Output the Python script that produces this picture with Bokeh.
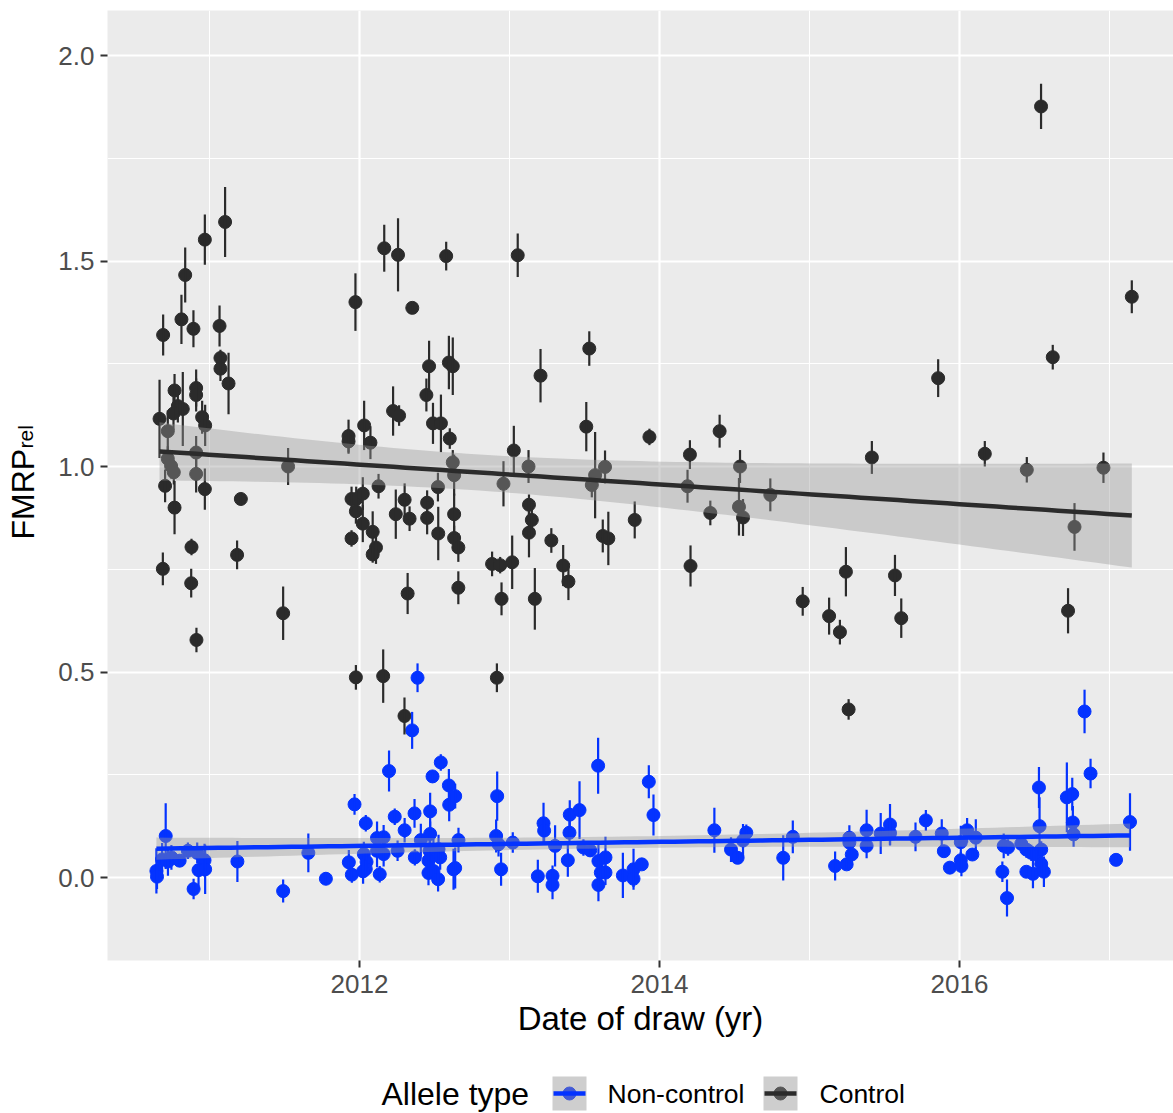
import numpy as np
from bokeh.plotting import figure
from bokeh.models import Range1d, FixedTicker, NumeralTickFormatter
from bokeh.layouts import row, column
from bokeh.embed import file_html
from bokeh.resources import INLINE
from bokeh.core.properties import value

# ---------------- data ----------------
ctrl_year = [
    2011.104, 2010.969, 2010.838, 2010.691, 2010.813, 2010.893, 2011.067, 2011.073, 2011.073, 2011.127,
    2010.767, 2010.911, 2010.911, 2010.789, 2010.822, 2010.760, 2010.667, 2010.951, 2010.971, 2010.722,
    2010.722, 2010.744, 2010.762, 2010.911, 2010.911, 2010.704, 2010.969, 2010.767, 2011.209, 2010.880,
    2011.184, 2010.689, 2010.878, 2010.913, 2011.491, 2011.524, 2011.973, 2011.927, 2011.927, 2012.031,
    2011.947, 2011.978, 2012.022, 2011.976, 2012.022, 2011.947, 2011.976, 2012.165, 2012.257, 2012.578,
    2013.055, 2012.352, 2012.464, 2012.596, 2012.622, 2013.207, 2013.532, 2012.446, 2012.224, 2012.264,
    2012.490, 2012.543, 2012.073, 2012.602, 2012.622, 2012.631, 2013.029, 2013.127, 2013.512, 2013.571,
    2013.549, 2013.637, 2012.960, 2012.523, 2012.127, 2012.088, 2012.110, 2012.088, 2012.242, 2012.301,
    2012.334, 2012.451, 2012.451, 2012.525, 2012.631, 2012.631, 2012.659, 2012.321, 2012.659, 2012.884,
    2012.938, 2013.018, 2012.947, 2013.169, 2013.130, 2013.149, 2013.130, 2013.279, 2013.358, 2013.393,
    2013.622, 2013.659, 2013.835, 2012.158, 2012.916, 2012.300, 2013.933, 2014.203, 2014.401, 2014.537,
    2014.187, 2014.339, 2014.530, 2014.557, 2014.739, 2014.207, 2015.416, 2015.243, 2015.570, 2014.955,
    2015.131, 2015.203, 2015.612, 2015.261, 2016.544, 2017.149, 2016.622, 2015.858, 2016.169, 2016.449,
    2016.960, 2016.767, 2016.724]
ctrl_fmrp = [
    1.595, 1.552, 1.466, 1.320, 1.358, 1.335, 1.342, 1.264, 1.238, 1.202,
    1.185, 1.191, 1.174, 1.147, 1.140, 1.129, 1.116, 1.120, 1.100, 1.086,
    1.019, 1.001, 0.986, 1.034, 0.982, 0.953, 0.945, 0.900, 0.921, 0.804,
    0.785, 0.751, 0.716, 0.578, 0.643, 1.000, 1.400, 1.074, 1.061, 1.100,
    0.921, 0.921, 0.934, 0.891, 0.861, 0.825, 0.487, 1.531, 1.515, 1.512,
    1.514, 1.386, 1.244, 1.253, 1.244, 1.221, 1.287, 1.174, 1.135, 1.124,
    1.105, 1.105, 1.058, 1.068, 1.010, 0.979, 1.039, 1.000, 1.097, 0.979,
    0.955, 0.999, 0.958, 0.950, 0.952, 0.841, 0.803, 0.786, 0.884, 0.919,
    0.873, 0.912, 0.875, 0.837, 0.884, 0.826, 0.803, 0.691, 0.705, 0.763,
    0.760, 0.767, 0.678, 0.678, 0.907, 0.870, 0.839, 0.820, 0.759, 0.720,
    0.831, 0.825, 0.870, 0.490, 0.486, 0.393, 1.072, 1.029, 1.086, 1.000,
    0.952, 0.887, 0.902, 0.876, 0.931, 0.758, 1.022, 0.744, 0.735, 0.672,
    0.636, 0.597, 0.631, 0.409, 1.876, 1.413, 1.266, 1.215, 1.031, 0.992,
    0.997, 0.853, 0.649]
ctrl_err = [
    0.085, 0.061, 0.067, 0.05, 0.06, 0.045, 0.05, 0.02, 0.03, 0.075,
    0.04, 0.045, 0.04, 0.04, 0.09, 0.04, 0.095, 0.04, 0.05, 0.05,
    0.03, 0.03, 0.03, 0.04, 0.045, 0.04, 0.05, 0.065, 0.015, 0.02,
    0.035, 0.04, 0.035, 0.03, 0.065, 0.045, 0.07, 0.04, 0.03, 0.06,
    0.03, 0.03, 0.04, 0.03, 0.045, 0.02, 0.03, 0.057, 0.089, 0.035,
    0.053, 0.01, 0.062, 0.065, 0.07, 0.065, 0.042, 0.04, 0.06, 0.025,
    0.05, 0.07, 0.04, 0.025, 0.03, 0.05, 0.06, 0.04, 0.06, 0.105,
    0.03, 0.04, 0.055, 0.035, 0.03, 0.05, 0.04, 0.02, 0.06, 0.04,
    0.03, 0.03, 0.04, 0.065, 0.05, 0.03, 0.035, 0.05, 0.04, 0.03,
    0.02, 0.065, 0.04, 0.075, 0.025, 0.04, 0.06, 0.03, 0.05, 0.045,
    0.04, 0.065, 0.045, 0.065, 0.035, 0.045, 0.02, 0.035, 0.04, 0.04,
    0.04, 0.03, 0.07, 0.045, 0.04, 0.05, 0.04, 0.06, 0.05, 0.035,
    0.045, 0.03, 0.048, 0.025, 0.055, 0.04, 0.03, 0.046, 0.031, 0.031,
    0.037, 0.058, 0.055]

nc_year = [
    2010.708, 2010.646, 2010.650, 2010.684, 2010.723, 2010.746, 2010.801, 2010.856, 2010.918, 2010.967,
    2010.927, 2010.971, 2010.894, 2011.186, 2011.491, 2011.659, 2011.776, 2011.967, 2012.042, 2011.929,
    2011.949, 2012.029, 2012.047, 2012.042, 2012.024, 2012.117, 2012.161, 2012.117, 2012.161, 2012.135,
    2012.197, 2012.235, 2012.254, 2012.301, 2012.367, 2012.369, 2012.387, 2012.351, 2012.409, 2012.471,
    2012.471, 2012.487, 2012.542, 2012.596, 2012.598, 2012.638, 2012.467, 2012.493, 2012.527, 2012.460,
    2012.538, 2012.460, 2012.493, 2012.524, 2012.627, 2012.638, 2012.660, 2012.918, 2012.911, 2012.927,
    2012.944, 2013.022, 2013.189, 2013.227, 2013.231, 2013.287, 2013.287, 2013.304, 2013.389, 2013.402,
    2013.400, 2013.467, 2013.493, 2013.538, 2013.591, 2013.593, 2013.640, 2013.609, 2013.640, 2013.593,
    2013.756, 2013.827, 2013.827, 2013.882, 2013.929, 2013.960, 2014.366, 2014.477, 2014.521, 2014.557,
    2014.579, 2014.825, 2014.889, 2015.171, 2015.248, 2015.266, 2015.266, 2015.282, 2015.381, 2015.381,
    2015.475, 2015.537, 2015.537, 2015.707, 2015.776, 2015.882, 2015.896, 2015.936, 2016.009, 2016.009,
    2016.013, 2016.051, 2016.086, 2016.109, 2016.286, 2016.295, 2016.324, 2016.317, 2016.412, 2016.446,
    2016.479, 2016.512, 2016.446, 2016.490, 2016.530, 2016.534, 2016.545, 2016.545, 2016.563, 2016.716,
    2016.752, 2016.756, 2016.761, 2016.834, 2016.874, 2017.044, 2017.137]
nc_fmrp = [
    0.101, 0.016, 0.002, 0.044, 0.039, 0.049, 0.041, 0.065, 0.060, 0.042,
    0.018, 0.020, -0.028, 0.039, -0.033, 0.060, -0.003, 0.178, 0.132, 0.037,
    0.007, 0.057, 0.038, 0.021, 0.015, 0.096, 0.098, 0.065, 0.057, 0.008,
    0.259, 0.148, 0.065, 0.115, 0.156, 0.049, 0.486, 0.358, 0.091, 0.161,
    0.106, 0.246, 0.280, 0.224, 0.177, 0.198, 0.065, 0.065, 0.069, 0.041,
    0.049, 0.011, 0.016, -0.004, 0.020, 0.023, 0.091, 0.198, 0.101, 0.081,
    0.020, 0.085, 0.003, 0.132, 0.114, 0.004, -0.018, 0.077, 0.042, 0.153,
    0.109, 0.164, 0.073, 0.066, 0.272, 0.040, 0.049, 0.012, 0.012, -0.018,
    0.005, 0.020, -0.003, 0.032, 0.233, 0.152, 0.115, 0.068, 0.048, 0.090,
    0.109, 0.048, 0.099, 0.028, 0.032, 0.097, 0.085, 0.056, 0.115, 0.077,
    0.107, 0.129, 0.108, 0.099, 0.139, 0.107, 0.064, 0.024, 0.086, 0.042,
    0.028, 0.115, 0.056, 0.097, 0.014, 0.077, 0.073, -0.050, 0.082, 0.068,
    0.060, 0.056, 0.014, 0.009, 0.219, 0.125, 0.068, 0.033, 0.014, 0.195,
    0.203, 0.134, 0.105, 0.404, 0.253, 0.043, 0.135]
nc_err = [
    0.08, 0.055, 0.03, 0.04, 0.035, 0.03, 0.015, 0.02, 0.025, 0.04,
    0.04, 0.06, 0.025, 0.05, 0.028, 0.047, 0.015, 0.025, 0.02, 0.03,
    0.02, 0.03, 0.03, 0.02, 0.03, 0.04, 0.03, 0.04, 0.03, 0.02,
    0.05, 0.02, 0.025, 0.03, 0.035, 0.02, 0.035, 0.045, 0.04, 0.045,
    0.03, 0.015, 0.02, 0.04, 0.04, 0.03, 0.04, 0.03, 0.035, 0.03,
    0.03, 0.03, 0.03, 0.03, 0.05, 0.05, 0.03, 0.06, 0.04, 0.03,
    0.04, 0.025, 0.04, 0.05, 0.03, 0.025, 0.035, 0.05, 0.04, 0.035,
    0.03, 0.07, 0.02, 0.015, 0.068, 0.04, 0.05, 0.03, 0.03, 0.04,
    0.055, 0.05, 0.02, 0.01, 0.04, 0.05, 0.055, 0.03, 0.015, 0.04,
    0.02, 0.055, 0.04, 0.035, 0.01, 0.03, 0.02, 0.02, 0.05, 0.03,
    0.05, 0.05, 0.03, 0.035, 0.025, 0.035, 0.01, 0.015, 0.04, 0.02,
    0.025, 0.03, 0.01, 0.045, 0.025, 0.03, 0.02, 0.045, 0.01, 0.02,
    0.02, 0.02, 0.01, 0.035, 0.05, 0.07, 0.02, 0.02, 0.037, 0.085,
    0.04, 0.04, 0.03, 0.053, 0.036, 0.01, 0.07]

x_ticks = [2012, 2014, 2016]
x_tick_labels = ["2012", "2014", "2016"]
x_minor = [2011, 2013, 2015, 2017]
y_ticks = [0.0, 0.5, 1.0, 1.5, 2.0]
y_minor = [0.25, 0.75, 1.25, 1.75]
legend_title = "Allele type"
legend_labels = ["Non-control", "Control"]
x_title = "Date of draw (yr)"

FONT = "Liberation Sans"
BLUE = "#0433FF"
DARK = "#2B2B2B"
T_CRIT = 1.978


def lm_band(x, y, n=80, t=T_CRIT):
    x = np.asarray(x, float)
    y = np.asarray(y, float)
    b, a = np.polyfit(x, y, 1)
    xs = np.linspace(x.min(), x.max(), n)
    fit = a + b * xs
    resid = y - (a + b * x)
    s = np.sqrt(np.sum(resid ** 2) / (len(x) - 2))
    sxx = np.sum((x - x.mean()) ** 2)
    se = s * np.sqrt(1.0 / len(x) + (xs - x.mean()) ** 2 / sxx)
    return xs, fit, fit - t * se, fit + t * se


# ---------------- main panel ----------------
p = figure(width=1125, height=1045,
           x_range=Range1d(2010.32, 2017.427), y_range=Range1d(-0.2019, 2.1095),
           output_backend="svg", toolbar_location=None,
           min_border_left=59, min_border_right=0, min_border_top=10, min_border_bottom=85)
p.background_fill_color = "#EBEBEB"
p.border_fill_color = "white"
p.outline_line_color = None

p.xaxis.ticker = FixedTicker(ticks=x_ticks, minor_ticks=x_minor)
p.xaxis.major_label_overrides = dict(zip(x_ticks, x_tick_labels))
p.yaxis.ticker = FixedTicker(ticks=y_ticks, minor_ticks=y_minor)
p.yaxis.formatter = NumeralTickFormatter(format="0.0")

for g in (p.xgrid[0], p.ygrid[0]):
    g.grid_line_color = "white"
    g.grid_line_width = 2.2
    g.minor_grid_line_color = "white"
    g.minor_grid_line_width = 1.1

for ax in (p.xaxis[0], p.yaxis[0]):
    ax.axis_line_color = None
    ax.major_tick_line_color = "#333333"
    ax.major_tick_line_width = 2
    ax.major_tick_out = 7
    ax.major_tick_in = 0
    ax.minor_tick_line_color = None
    ax.major_label_text_font = FONT
    ax.major_label_text_font_size = "26px"
    ax.major_label_text_color = "#4D4D4D"

p.yaxis.major_label_standoff = 6
p.xaxis.major_label_standoff = 7
p.xaxis.axis_label = x_title
p.xaxis.axis_label_text_font = FONT
p.xaxis.axis_label_text_font_size = "33px"
p.xaxis.axis_label_text_font_style = "normal"
p.xaxis.axis_label_text_color = "black"
p.xaxis.axis_label_standoff = 4

nc_y = np.array(nc_fmrp)
nc_e = np.array(nc_err)
c_y = np.array(ctrl_fmrp)
c_e = np.array(ctrl_err)

p.scatter(nc_year, nc_fmrp, size=13, color=BLUE)
p.scatter(ctrl_year, ctrl_fmrp, size=13, color=DARK)
p.segment(x0=nc_year, y0=nc_y - nc_e, x1=nc_year, y1=nc_y + nc_e, line_color=BLUE, line_width=2.2)
p.segment(x0=ctrl_year, y0=c_y - c_e, x1=ctrl_year, y1=c_y + c_e, line_color=DARK, line_width=2.2)

for xv, yv, col in ((nc_year, nc_fmrp, BLUE), (ctrl_year, ctrl_fmrp, DARK)):
    xs, fit, lo, hi = lm_band(xv, yv)
    p.varea(x=xs, y1=lo, y2=hi, fill_color="#999999", fill_alpha=0.4)
    p.line(xs, fit, line_color=col, line_width=4.5)

# ---------------- y-axis title (with subscript) ----------------
yl = figure(width=48, height=1045, x_range=Range1d(0, 48), y_range=Range1d(-1045, 0),
            output_backend="svg", toolbar_location=None, min_border=0,
            x_axis_location=None, y_axis_location=None)
yl.outline_line_color = None
yl.grid.visible = False
yl.text(x=[22], y=[-532], text=["FMRP"], angle=np.pi / 2, text_font=value(FONT),
        text_font_size="32px", text_align="center", text_baseline="middle", text_color="black")
yl.text(x=[25], y=[-469], text=["rel"], angle=np.pi / 2, text_font=value(FONT),
        text_font_size="21px", text_align="center", text_baseline="middle", text_color="black")

# ---------------- legend ----------------
lg = figure(width=1173, height=68, x_range=Range1d(0, 1173), y_range=Range1d(-1113, -1045),
            output_backend="svg", toolbar_location=None, min_border=0,
            x_axis_location=None, y_axis_location=None)
lg.outline_line_color = None
lg.grid.visible = False
ly = -1093
lg.text(x=[381], y=[ly], text=[legend_title], text_font=value(FONT), text_font_size="32px",
        text_align="left", text_baseline="middle", text_color="black")
lg.rect(x=[569, 780], y=[ly, ly], width=34, height=34, fill_color="#CECECE", line_color=None)
lg.scatter(x=[569], y=[ly], size=13, color="#435BD6")
lg.scatter(x=[780], y=[ly], size=13, color="#565656")
lg.segment(x0=[553], y0=[ly], x1=[585], y1=[ly], line_color=BLUE, line_width=4.5)
lg.segment(x0=[764], y0=[ly], x1=[796], y1=[ly], line_color=DARK, line_width=4.5)
lg.text(x=[607, 819], y=[ly, ly], text=legend_labels, text_font=value(FONT), text_font_size="26.5px",
        text_align="left", text_baseline="middle", text_color="black")

layout = column(row(yl, p), lg)
open("out.html", "w").write(file_html(layout, INLINE, "plot"))
